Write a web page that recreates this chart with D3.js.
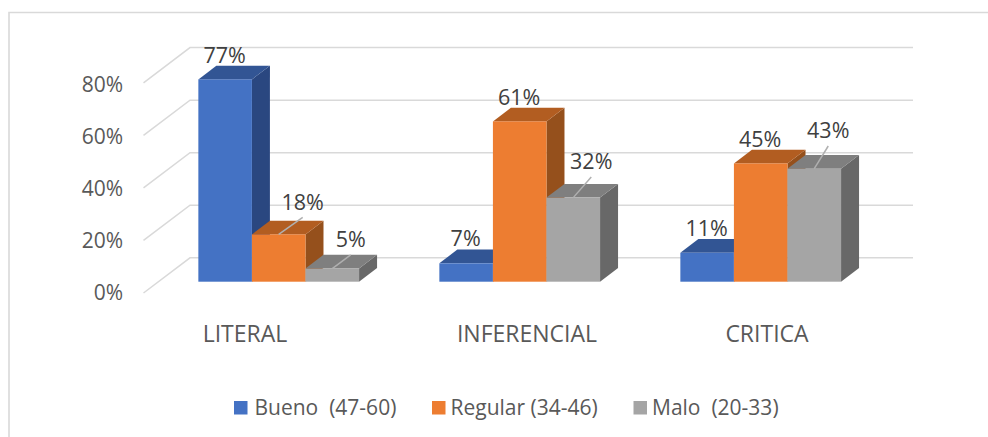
<!DOCTYPE html>
<html>
<head>
<meta charset="utf-8">
<script src="https://cdn.jsdelivr.net/npm/d3@7"></script>
<style>
    html, body { margin: 0; padding: 0; background: #fff; }
    text { font-family: "Open Sans", sans-serif; white-space: pre; }
</style>
</head>
<body>
<div id="chart"></div>
<script>
var categories = ["LITERAL", "INFERENCIAL", "CRITICA"];
var seriesNames = ["Bueno  (47-60)", "Regular (34-46)", "Malo  (20-33)"];
var bueno = [0.77, 0.07, 0.11];
var regular = [0.18, 0.61, 0.45];
var malo = [0.05, 0.32, 0.43];
var yTicks = [0, 0.2, 0.4, 0.6, 0.8];

var seriesValues = [bueno, regular, malo];
var faceColors = ["#4472c4", "#ed7d31", "#a5a5a5"];
var topColors = ["#325594", "#b25d21", "#7f7f7f"];
var sideColors = ["#2a4780", "#95501c", "#686868"];

var width = 988;
var height = 437;

// depth of one bar, and how far the wall sits behind / in front of the bars
var barDepthX = 18, barDepthY = 13.7;
var wallDepthX = 46.5, wallDepthY = 35.2;
var wallFrontDY = 11.3;

var svg = d3.select("#chart").append("svg")
    .attr("width", width)
    .attr("height", height)
    .style("display", "block");

var y = d3.scaleLinear().domain([0, 0.8]).range([281.7, 71.5]);
var x0 = d3.scaleBand().domain(categories).range([158.2, 881.2]);
var x1 = d3.scaleBand().domain(d3.range(3)).range([0, 160.7]);
var groupPad = (x0.bandwidth() - x1.range()[1]) / 2;

function barX(cat, s) {
    return x0(cat) + groupPad + x1(s);
}

// frame of the pasted chart, open at the right and the bottom
svg.append("path")
    .attr("d", "M9,437V12.5H988")
    .attr("fill", "none")
    .attr("stroke", "#d9d9d9")
    .attr("stroke-width", 1.6);

// gridlines: diagonal on the side wall, then flat along the back wall
var wallLeft = 143.5;
svg.append("g").selectAll("path")
    .data(yTicks)
    .enter()
    .append("path")
    .attr("d", function (d) {
        var front = y(d) + wallFrontDY;
        return "M" + wallLeft + "," + front +
            "L" + (wallLeft + wallDepthX) + "," + (front - wallDepthY) + "H913";
    })
    .attr("fill", "none")
    .attr("stroke", "#d9d9d9")
    .attr("stroke-width", 1.5);

var yAxis = d3.axisLeft(y.copy().range([292.5, 85]))
    .tickValues(yTicks)
    .tickSize(0)
    .tickPadding(0)
    .tickFormat(d3.format(".0%"));

var axisG = svg.append("g")
    .attr("transform", "translate(123,0)")
    .call(yAxis);
axisG.select(".domain").remove();
axisG.selectAll("text")
    .attr("font-size", 21)
    .attr("fill", "#595959")
    .style("font-family", "\"Open Sans\", sans-serif");

// bars, left to right so the next bar hides the previous side face
categories.forEach(function (cat, c) {
    seriesValues.forEach(function (values, s) {
        var left = barX(cat, s);
        var w = x1.bandwidth();
        var topY = y(values[c]);
        var base = y(0);
        var g = svg.append("g");

        g.append("path")
            .attr("d", "M" + (left + w) + "," + topY +
                "l" + barDepthX + "," + (-barDepthY) +
                "V" + (base - barDepthY) +
                "L" + (left + w) + "," + base + "Z")
            .attr("fill", sideColors[s]);

        g.append("path")
            .attr("d", "M" + left + "," + topY +
                "l" + barDepthX + "," + (-barDepthY) +
                "h" + w +
                "l" + (-barDepthX) + "," + barDepthY + "Z")
            .attr("fill", topColors[s]);

        g.append("rect")
            .attr("x", left)
            .attr("y", topY)
            .attr("width", w)
            .attr("height", base - topY)
            .attr("fill", faceColors[s]);
    });
});

// labels that were dragged away from their bar keep a leader line
var labelMoves = {
    "0-1": [24, -33],
    "0-2": [18.4, -29.6],
    "1-2": [18, -36.6],
    "2-2": [14, -38.7]
};

categories.forEach(function (cat, c) {
    seriesValues.forEach(function (values, s) {
        var cx = barX(cat, s) + x1.bandwidth() / 2;
        var topY = y(values[c]);
        var move = labelMoves[c + "-" + s] || [-0.5, -25];

        if (labelMoves[c + "-" + s]) {
            svg.append("line")
                .attr("x1", cx)
                .attr("y1", topY)
                .attr("x2", cx + move[0])
                .attr("y2", topY + move[1] + 16)
                .attr("stroke", "#b0b0b0")
                .attr("stroke-width", 1.5);
        }

        svg.append("text")
            .attr("x", cx + move[0])
            .attr("y", topY + move[1])
            .attr("dy", "0.38em")
            .attr("text-anchor", "middle")
            .attr("font-size", 21.5)
            .attr("fill", "#404040")
            .text(d3.format(".0%")(values[c]));
    });
});

// category names sit under the front edge of the floor
var labelShift = [-33.7, 7.3, 6.3];
svg.append("g").selectAll("text")
    .data(categories)
    .enter()
    .append("text")
    .attr("x", function (d, i) { return x0(d) + x0.bandwidth() / 2 + labelShift[i]; })
    .attr("y", 334)
    .attr("dy", "0.35em")
    .attr("text-anchor", "middle")
    .attr("font-size", 23)
    .attr("fill", "#595959")
    .text(function (d) { return d; });

// legend
var legendSwatchX = [234, 432, 633.5];
var legendTextX = [20.5, 18.5, 18.5];
var legend = svg.append("g").selectAll("g")
    .data(seriesNames)
    .enter()
    .append("g")
    .attr("transform", function (d, i) { return "translate(" + legendSwatchX[i] + ",0)"; });

legend.append("rect")
    .attr("y", 401)
    .attr("width", 13.5)
    .attr("height", 13.5)
    .attr("fill", function (d, i) { return faceColors[i]; });

legend.append("text")
    .attr("x", function (d, i) { return legendTextX[i]; })
    .attr("y", 408)
    .attr("dy", "0.35em")
    .attr("font-size", 21)
    .attr("fill", "#595959")
    .text(function (d) { return d; });
</script>
</body>
</html>
